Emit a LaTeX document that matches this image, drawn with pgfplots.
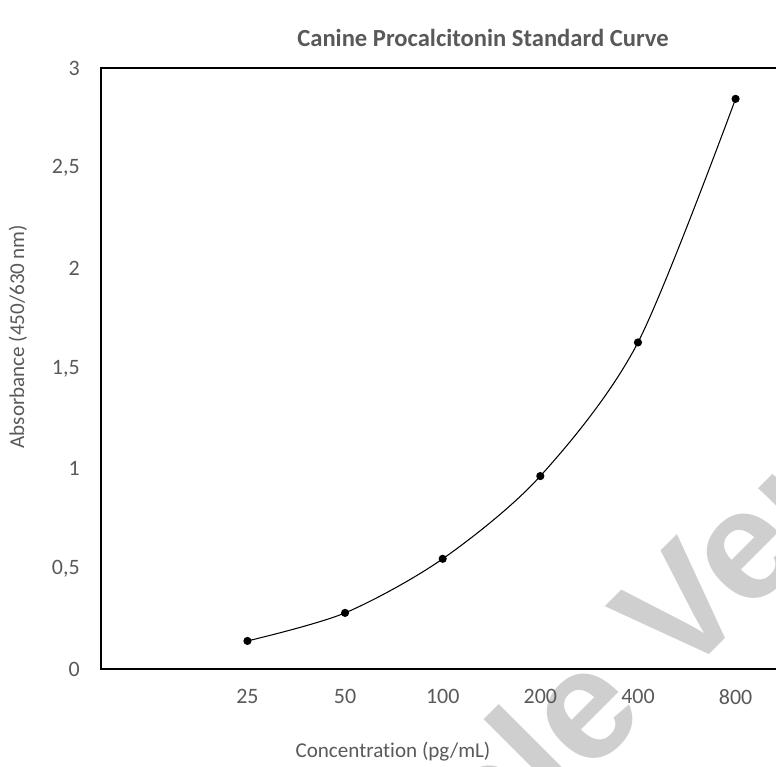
\documentclass[border=0pt]{standalone}
\usepackage{fontspec}
\setmainfont{Carlito}[Ligatures=NoCommon]
\newfontfamily\wmfont{Liberation Sans}
\usepackage{pgfplots}
\pgfplotsset{compat=1.18}
\definecolor{txtgrey}{HTML}{595959}
\definecolor{wmgrey}{HTML}{CFCFCF}
\begin{document}
\begin{tikzpicture}
% watermark, behind the plot
\node[rotate=45, anchor=base east, inner sep=0, text=wmgrey,
  font=\wmfont\bfseries\fontsize{89}{90}\selectfont] at (12.98cm,-14.30cm) {Sample};
\node[rotate=45, anchor=base west, inner sep=0, text=wmgrey,
  font=\wmfont\bfseries\fontsize{89}{90}\selectfont] at (13.60cm,-13.68cm) {Version};
\begin{axis}[
  at={(2.02cm,-1.36cm)}, anchor=north west,
  scale only axis,
  width=13.668cm, height=12.02cm,
  xmin=-1.5, xmax=5.5, ymin=0, ymax=3,
  xtick={0,1,2,3,4,5},
  xticklabels={25,50,100,200,400,800},
  ytick={0,0.5,1,1.5,2,2.5,3},
  major tick length=0pt,
  axis line style={black, line width=1.2pt},
  /pgf/number format/assume math mode=true,
  /pgf/number format/use comma,
  tick label style={font=\fontsize{12.5}{14}\selectfont, text=txtgrey, inner sep=0pt},
  yticklabel style={anchor=east, xshift=-0.42cm},
  xticklabel style={anchor=north, yshift=-0.40cm},
  clip=false
]
\addplot[black, line width=0.6pt, smooth, mark=*, mark size=2pt,
  mark options={fill=black}] coordinates {
  (0,0.14) (1,0.28) (2,0.55) (3,0.963) (4,1.63) (5,2.846)
};
\end{axis}
\node[font=\bfseries\fontsize{14}{16}\selectfont, text=txtgrey] at (9.66cm,-0.76cm)
  {Canine Procalcitonin Standard Curve};
\node[rotate=90, font=\fontsize{12}{14}\selectfont, text=txtgrey] at (0.36cm,-6.74cm)
  {Absorbance (450/630\,nm)};
\node[font=\fontsize{12}{14}\selectfont, text=txtgrey] at (7.86cm,-15.04cm)
  {Concentration (pg/mL)};
\pgfresetboundingbox
\path[use as bounding box] (0,0) rectangle (15.52cm,-15.34cm);
\end{tikzpicture}
\end{document}
